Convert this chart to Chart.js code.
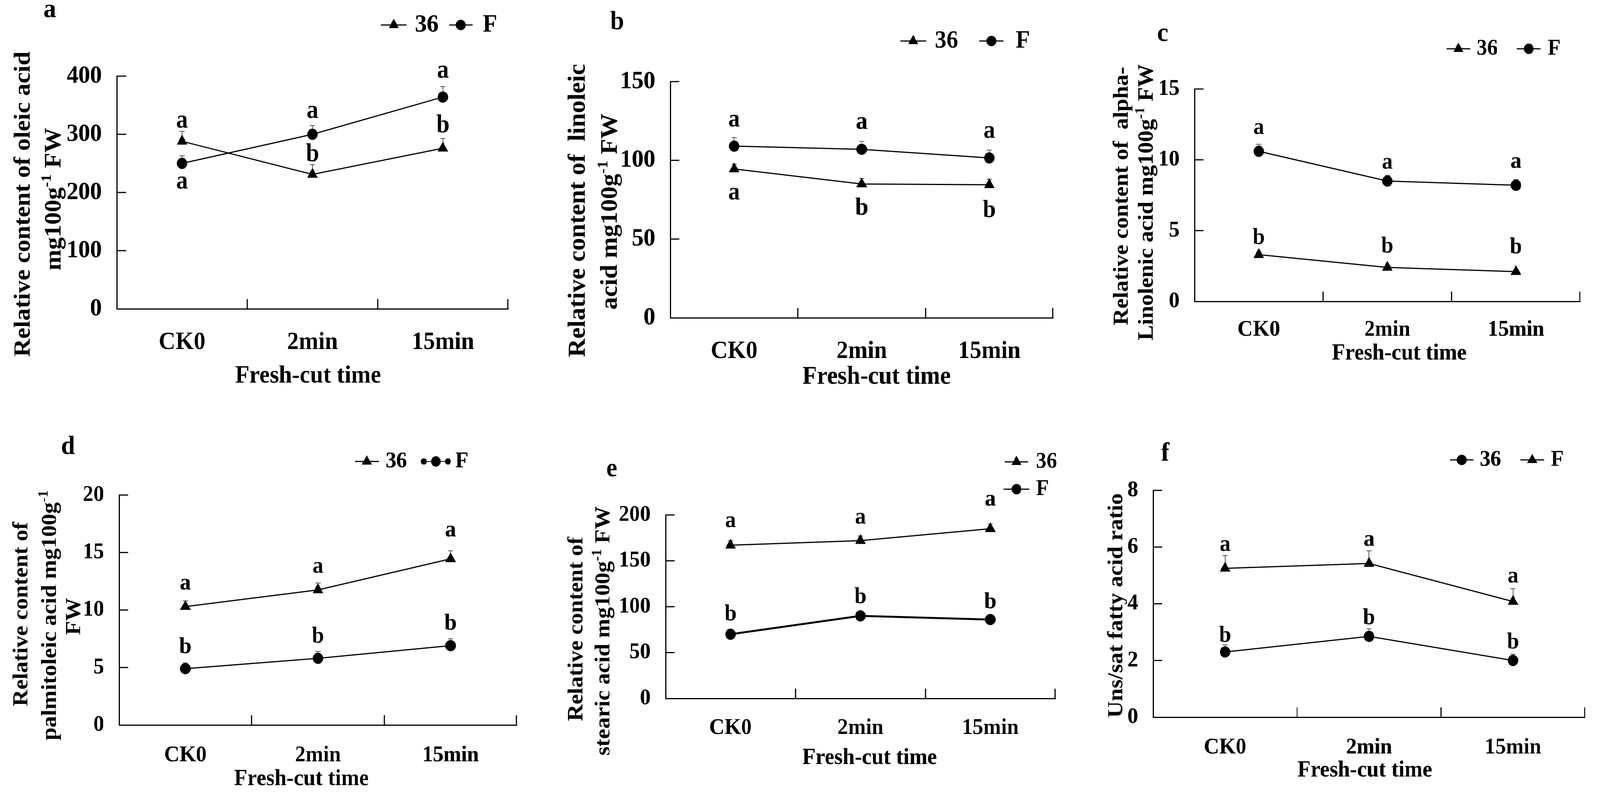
<!DOCTYPE html>
<html>
<head>
<meta charset="utf-8">
<script src="https://cdn.jsdelivr.net/npm/chart.js@4.4.1/dist/chart.umd.min.js"></script>
<style>
html,body{margin:0;padding:0;background:#fff;overflow:hidden;}
#stage{position:absolute;left:0;top:0;width:4368px;height:2044px;transform-origin:0 0;background:#fff;}
canvas{position:absolute;}
</style>
</head>
<body>
<div id="stage"></div>
<script>
// ---------------- DATA ----------------
const categories = ['CK0', '2min', '15min'];

// (a) oleic acid
const oleicTicks = [0, 100, 200, 300, 400];
const oleic36 = [288, 231, 276];
const oleic36Err = [17, 17, 17];
const oleic36Letters = ['a', 'b', 'b'];
const oleicF = [250, 300, 364];
const oleicFErr = [13, 15, 18];
const oleicFLetters = ['a', 'a', 'a'];

// (b) linoleic acid
const linoleicTicks = [0, 50, 100, 150];
const linoleic36 = [94.5, 85, 84.5];
const linoleic36Err = [3, 3.5, 3.5];
const linoleic36Letters = ['a', 'b', 'b'];
const linoleicF = [109, 107, 101.5];
const linoleicFErr = [5.5, 5, 5];
const linoleicFLetters = ['a', 'a', 'a'];

// (c) alpha-linolenic acid
const linolenicTicks = [0, 5, 10, 15];
const linolenic36 = [3.3, 2.4, 2.1];
const linolenic36Err = [0.15, 0.12, 0.1];
const linolenic36Letters = ['b', 'b', 'b'];
const linolenicF = [10.6, 8.5, 8.2];
const linolenicFErr = [0.5, 0.4, 0.4];
const linolenicFLetters = ['a', 'a', 'a'];

// (d) palmitoleic acid
const palmitoleicTicks = [0, 5, 10, 15, 20];
const palmitoleic36 = [10.3, 11.75, 14.45];
const palmitoleic36Err = [0.5, 0.6, 0.7];
const palmitoleic36Letters = ['a', 'a', 'a'];
const palmitoleicF = [4.9, 5.8, 6.9];
const palmitoleicFErr = [0.5, 0.6, 0.6];
const palmitoleicFLetters = ['b', 'b', 'b'];

// (e) stearic acid
const stearicTicks = [0, 50, 100, 150, 200];
const stearic36 = [167, 172, 185];
const stearic36Err = [5, 5, 5];
const stearic36Letters = ['a', 'a', 'a'];
const stearicF = [70, 90, 86];
const stearicFErr = [3, 3, 3];
const stearicFLetters = ['b', 'b', 'b'];

// (f) unsaturated / saturated ratio
const ratioTicks = [0, 2, 4, 6, 8];
const ratio36 = [2.3, 2.85, 2.0];
const ratio36Err = [0.25, 0.27, 0.22];
const ratio36Letters = ['b', 'b', 'b'];
const ratioF = [5.25, 5.42, 4.08];
const ratioFErr = [0.45, 0.45, 0.45];
const ratioFLetters = ['a', 'a', 'a'];

const xTitleText = 'Fresh-cut time';

// ---------------- LAYOUT / STYLE ----------------
const FAMILY = '"Liberation Serif", "Times New Roman", Times, serif';
const PAGE_W = 4368, PAGE_H = 2044;
const CW = 1456, CH = 1022, YW = 200, XH = 150;
function fnt(size) { return 'bold ' + size + 'px ' + FAMILY; }

const panels = [
  { id: 'a', ox: 0, oy: 0, area: [319, 195, 1387, 791], ticks: oleicTicks, fs: 64, tfs: 64, lfs: 65, tickPad: 48,
    series: [
      { name: '36', values: oleic36, err: oleic36Err, letters: oleic36Letters, style: 'triangle', lw: 3 },
      { name: 'F', values: oleicF, err: oleicFErr, letters: oleicFLetters, style: 'circle', lw: 3 }],
    letterDy: [[-50, -56, -63], [50, -57, -65]],
    panelLabel: { x: 136, base: 44 },
    legend: [{ ds: 0, x1: 1040, x2: 1110, tx: 1133, y: 64 }, { ds: 1, x1: 1226, x2: 1290, tx: 1318, y: 64 }],
    yTitle: [{ x: 64, y: 523, parts: [['Relative content of oleic acid']] },
             { x: 148, y: 510, parts: [['mg100g'], ['-1', 1], [' FW']] }],
    xTitle: { x: 841, y: 963 } },
  { id: 'b', ox: 1456, oy: 0, area: [1830, 209, 2875, 814], ticks: linoleicTicks, fs: 64, tfs: 65, lfs: 64, tickPad: 48,
    series: [
      { name: '36', values: linoleic36, err: linoleic36Err, letters: linoleic36Letters, style: 'triangle', lw: 3 },
      { name: 'F', values: linoleicF, err: linoleicFErr, letters: linoleicFLetters, style: 'circle', lw: 3 }],
    letterDy: [[63, 57, 61], [-65, -67, -66]],
    panelLabel: { x: 1685, base: 75 },
    legend: [{ ds: 0, x1: 2458, x2: 2528, tx: 2552, y: 105 }, { ds: 1, x1: 2673, x2: 2740, tx: 2773, y: 105 }],
    yTitle: [{ x: 1579, y: 539, parts: [['Relative content of  linoleic']] },
             { x: 1667, y: 542, parts: [['acid mg100g'], ['-1', 1], [' FW']] }],
    xTitle: { x: 2393, y: 966 } },
  { id: 'c', ox: 2912, oy: 0, area: [3261, 228, 4314, 772], ticks: linolenicTicks, fs: 58, tfs: 59, lfs: 60, tickPad: 38,
    series: [
      { name: '36', values: linolenic36, err: linolenic36Err, letters: linolenic36Letters, style: 'triangle', lw: 3 },
      { name: 'F', values: linolenicF, err: linolenicFErr, letters: linolenicFLetters, style: 'circle', lw: 3 }],
    letterDy: [[-48, -58, -67], [-58, -46, -58]],
    panelLabel: { x: 3174, base: 105 },
    legend: [{ ds: 0, x1: 3949, x2: 4014, tx: 4031, y: 125 }, { ds: 1, x1: 4141, x2: 4206, tx: 4225, y: 125 }],
    yTitle: [{ x: 3064, y: 502, parts: [['Relative content of  alpha-']] },
             { x: 3132, y: 518, parts: [['Linolenic acid mg100g'], ['-1', 1], [' FW']] }],
    xTitle: { x: 3820, y: 906 } },
  { id: 'd', ox: 0, oy: 1022, area: [325, 1268, 1411, 1857], ticks: palmitoleicTicks, fs: 58, tfs: 59, lfs: 60, tickPad: 43,
    series: [
      { name: '36', values: palmitoleic36, err: palmitoleic36Err, letters: palmitoleic36Letters, style: 'triangle', lw: 3 },
      { name: 'F', values: palmitoleicF, err: palmitoleicFErr, letters: palmitoleicFLetters, style: 'circle', lw: 3 }],
    letterDy: [[-57, -58, -71], [-60, -61, -61]],
    panelLabel: { x: 186, base: 1163 },
    legend: [{ ds: 0, x1: 969, x2: 1034, tx: 1053, y: 1182 }, { ds: 1, x1: 1150, x2: 1230, tx: 1243, y: 1182, dots: true }],
    yTitle: [{ x: 60, y: 1573, parts: [['Relative content of']] },
             { x: 138, y: 1576, parts: [['palmitoleic acid mg100g'], ['-1', 1]] },
             { x: 204, y: 1579, parts: [['FW']] }],
    xTitle: { x: 823, y: 1996 } },
  { id: 'e', ox: 1456, oy: 1022, area: [1817, 1319, 2881, 1789], ticks: stearicTicks, fs: 58, tfs: 59, lfs: 60, tickPad: 41,
    series: [
      { name: '36', values: stearic36, err: stearic36Err, letters: stearic36Letters, style: 'triangle', lw: 3 },
      { name: 'F', values: stearicF, err: stearicFErr, letters: stearicFLetters, style: 'circle', lw: 5 }],
    letterDy: [[-60, -58, -73], [-56, -53, -49]],
    panelLabel: { x: 1670, base: 1220 },
    legend: [{ ds: 0, x1: 2743, x2: 2807, tx: 2828, y: 1183 }, { ds: 1, x1: 2740, x2: 2810, tx: 2828, y: 1253 }],
    yTitle: [{ x: 1575, y: 1611, parts: [['Relative content of']] },
             { x: 1649, y: 1616, parts: [['stearic acid mg100g'], ['-1', 1], [' FW']] }],
    xTitle: { x: 2374, y: 1942 } },
  { id: 'f', ox: 2912, oy: 1022, area: [3148, 1256, 4327, 1837], ticks: ratioTicks, fs: 58, tfs: 59, lfs: 60, tickPad: 43,
    series: [
      { name: '36', values: ratio36, err: ratio36Err, letters: ratio36Letters, style: 'circle', lw: 3 },
      { name: 'F', values: ratioF, err: ratioFErr, letters: ratioFLetters, style: 'triangle', lw: 3 }],
    letterDy: [[-46, -51, -51], [-59, -59, -62]],
    panelLabel: { x: 3181, base: 1180 },
    legend: [{ ds: 0, x1: 3958, x2: 4023, tx: 4040, y: 1178 }, { ds: 1, x1: 4150, x2: 4216, tx: 4234, y: 1178 }],
    yTitle: [{ x: 3049, y: 1551, parts: [['Uns/sat fatty acid ratio']] }],
    xTitle: { x: 3726, y: 1974 } }
];

// stretch the 4368x2044 stage so that it fills the actual viewport
const stage = document.getElementById('stage');
(function fitStage() {
  const vw = window.innerWidth || document.documentElement.clientWidth || PAGE_W;
  const vh = window.innerHeight || document.documentElement.clientHeight || PAGE_H;
  const sx = vw / PAGE_W, sy = vh / PAGE_H;
  if (Math.abs(sx - 1) > 0.002 || Math.abs(sy - 1) > 0.002) stage.style.transform = 'scale(' + sx + ',' + sy + ')';
})();

function radiusFor(style) { return style === 'triangle' ? 16 : 14; }
function legendRadius(style) { return style === 'triangle' ? 15 : 13; }

function drawMarker(ctx, style, r, x, y) {
  ctx.fillStyle = '#000'; ctx.strokeStyle = '#000'; ctx.lineWidth = 1;
  const H = Chart.helpers;
  if (H && H.drawPoint) {
    H.drawPoint(ctx, { pointStyle: style, radius: r, rotation: 0, borderWidth: 1 }, x, y);
    return;
  }
  ctx.beginPath();
  if (style === 'triangle') {
    ctx.moveTo(x, y - r);
    ctx.lineTo(x + r * 0.866, y + r / 2);
    ctx.lineTo(x - r * 0.866, y + r / 2);
    ctx.closePath();
  } else {
    ctx.arc(x, y, r, 0, Math.PI * 2);
  }
  ctx.fill(); ctx.stroke();
}

function drawRich(ctx, parts, x, y, rot, size) {
  ctx.save();
  ctx.translate(x, y);
  ctx.rotate(rot);
  ctx.textBaseline = 'middle';
  ctx.textAlign = 'left';
  ctx.fillStyle = '#000';
  const supSize = Math.round(size * 0.62);
  let total = 0;
  const ws = parts.map(p => {
    ctx.font = fnt(p[1] ? supSize : size);
    const w = ctx.measureText(p[0]).width; total += w; return w;
  });
  let cx = -total / 2;
  parts.forEach((p, i) => {
    ctx.font = fnt(p[1] ? supSize : size);
    ctx.fillText(p[0], cx, p[1] ? -size * 0.3 : 0);
    cx += ws[i];
  });
  ctx.restore();
}

function decor(cfg) {
  const X = v => v - cfg.ox, Y = v => v - cfg.oy;
  return {
    id: 'decor_' + cfg.id,
    beforeDatasetsDraw(chart) {
      const ctx = chart.ctx, ys = chart.scales.y;
      ctx.save();
      ctx.strokeStyle = '#555'; ctx.lineWidth = 2;
      cfg.series.forEach((s, di) => {
        const meta = chart.getDatasetMeta(di);
        s.values.forEach((v, i) => {
          const px = meta.data[i].x;
          const p0 = ys.getPixelForValue(v), p1 = ys.getPixelForValue(v + s.err[i]);
          ctx.beginPath();
          ctx.moveTo(px, p0); ctx.lineTo(px, p1);
          ctx.moveTo(px - 7, p1); ctx.lineTo(px + 7, p1);
          ctx.stroke();
        });
      });
      ctx.restore();
    },
    afterDraw(chart) {
      const ctx = chart.ctx, xs = chart.scales.x, ys = chart.scales.y, a = chart.chartArea;
      ctx.save();
      // inward tick marks
      ctx.strokeStyle = '#000'; ctx.lineWidth = 3;
      ys.ticks.forEach(t => {
        if (t.value === ys.min) return;
        const py = ys.getPixelForValue(t.value);
        ctx.beginPath(); ctx.moveTo(a.left, py); ctx.lineTo(a.left + 25, py); ctx.stroke();
      });
      const n = chart.data.labels.length, xt = [];
      for (let i = 0; i < n - 1; i++) xt.push((xs.getPixelForValue(i) + xs.getPixelForValue(i + 1)) / 2);
      xt.push(a.right - 1);
      xt.forEach(px => { ctx.beginPath(); ctx.moveTo(px, a.bottom); ctx.lineTo(px, a.bottom - 25); ctx.stroke(); });

      // significance letters
      ctx.fillStyle = '#000'; ctx.textAlign = 'center'; ctx.textBaseline = 'alphabetic';
      ctx.font = fnt(cfg.lfs);
      cfg.series.forEach((s, di) => {
        const meta = chart.getDatasetMeta(di);
        s.letters.forEach((L, i) => {
          const vc = ys.getPixelForValue(s.values[i]) + cfg.letterDy[di][i];
          ctx.fillText(L, meta.data[i].x, vc + (L === 'b' ? 0.34 : 0.23) * cfg.lfs);
        });
      });

      // panel label
      ctx.font = fnt(68); ctx.textAlign = 'center'; ctx.textBaseline = 'alphabetic';
      ctx.fillText(cfg.id, X(cfg.panelLabel.x), Y(cfg.panelLabel.base));

      // legend
      cfg.legend.forEach(e => {
        const s = cfg.series[e.ds], y = Y(e.y), x1 = X(e.x1), x2 = X(e.x2), cx = (x1 + x2) / 2;
        ctx.strokeStyle = '#000'; ctx.fillStyle = '#000';
        if (e.dots) {
          ctx.lineWidth = 2;
          ctx.beginPath(); ctx.moveTo(x1 + 6, y); ctx.lineTo(x2 - 6, y); ctx.stroke();
          [x1 + 7, x2 - 7].forEach(dx => { ctx.beginPath(); ctx.arc(dx, y, 8, 0, Math.PI * 2); ctx.fill(); });
        } else {
          ctx.lineWidth = 3;
          ctx.beginPath(); ctx.moveTo(x1, y); ctx.lineTo(x2, y); ctx.stroke();
        }
        drawMarker(ctx, s.style, legendRadius(s.style), cx, y);
        ctx.fillStyle = '#000';
        ctx.font = fnt(cfg.fs); ctx.textAlign = 'left'; ctx.textBaseline = 'middle';
        ctx.fillText(s.name, X(e.tx), y);
      });

      // axis titles
      ctx.font = fnt(cfg.tfs); ctx.textAlign = 'center'; ctx.textBaseline = 'middle'; ctx.fillStyle = '#000';
      ctx.fillText(xTitleText, X(cfg.xTitle.x), Y(cfg.xTitle.y));
      cfg.yTitle.forEach(l => drawRich(ctx, l.parts, X(l.x), Y(l.y), -Math.PI / 2, cfg.tfs));
      ctx.restore();
    }
  };
}

Chart.defaults.font.family = FAMILY;
Chart.defaults.color = '#000';

panels.forEach(cfg => {
  const cv = document.createElement('canvas');
  cv.width = CW; cv.height = CH;
  cv.style.left = cfg.ox + 'px'; cv.style.top = cfg.oy + 'px';
  cv.style.width = CW + 'px'; cv.style.height = CH + 'px';
  stage.appendChild(cv);
  const [L, T, R, B] = cfg.area;
  const lx = L - cfg.ox, tx = T - cfg.oy, rx = R - cfg.ox, bx = B - cfg.oy;
  const t = cfg.ticks;
  new Chart(cv, {
    type: 'line',
    data: {
      labels: categories,
      datasets: cfg.series.map(s => ({
        label: s.name, data: s.values,
        borderColor: '#000', backgroundColor: '#000', borderWidth: s.lw,
        pointStyle: s.style, pointRadius: radiusFor(s.style), pointHoverRadius: radiusFor(s.style),
        pointBorderWidth: 1, pointBorderColor: '#000', pointBackgroundColor: '#000',
        tension: 0, fill: false, clip: false
      }))
    },
    options: {
      responsive: false, animation: false, devicePixelRatio: 1, events: [],
      layout: { padding: { left: lx - YW, top: tx, right: CW - rx, bottom: CH - bx - XH } },
      plugins: { legend: { display: false }, tooltip: { enabled: false }, title: { display: false } },
      scales: {
        x: {
          type: 'category', offset: true,
          grid: { display: false, drawTicks: false },
          border: { display: true, color: '#000', width: 3 },
          ticks: { color: '#000', font: { family: FAMILY, size: cfg.fs, weight: 'bold' }, padding: cfg.tickPad, maxRotation: 0, autoSkip: false },
          afterFit: s => { s.height = XH; }
        },
        y: {
          min: t[0], max: t[t.length - 1],
          grid: { display: false, drawTicks: false },
          border: { display: true, color: '#000', width: 3 },
          ticks: { stepSize: t[1] - t[0], color: '#000', font: { family: FAMILY, size: cfg.fs, weight: 'bold' }, padding: 41 },
          afterFit: s => { s.width = YW; }
        }
      }
    },
    plugins: [decor(cfg)]
  });
});
</script>
</body>
</html>
